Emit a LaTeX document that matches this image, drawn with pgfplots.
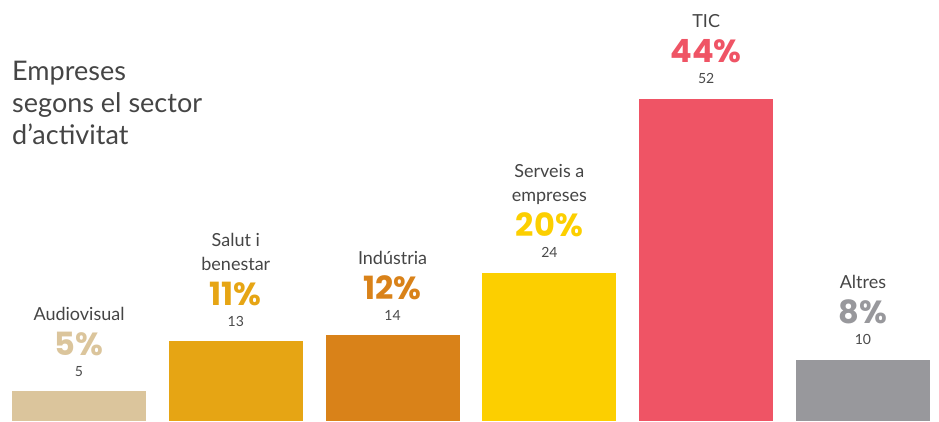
\documentclass[border=0pt]{standalone}
\usepackage{pgfplots}
\pgfplotsset{compat=1.18}
\usepackage{fontspec}
\setmainfont{Lato}
\newfontfamily\pctfamily{Poppins}
\definecolor{audio}{HTML}{DBC59C}
\definecolor{salut}{HTML}{E6A514}
\definecolor{indus}{HTML}{D98219}
\definecolor{serv}{HTML}{FCCF00}
\definecolor{tic}{HTML}{EF5465}
\definecolor{altr}{HTML}{98989C}
\definecolor{namegray}{HTML}{454545}
\definecolor{numgray}{HTML}{4A4A4A}
\newcommand{\ctr}[1]{\hbox to 0pt{\hss#1\hss}}
\newcommand{\nm}[1]{\ctr{\fontsize{18}{22}\selectfont\color{namegray}#1}}
\newcommand{\stk}[4]{\vbox{\lineskiplimit=-1000pt\lineskip=0pt\baselineskip=24pt #1\baselineskip=35pt\ctr{\fontsize{32}{32}\selectfont\pctfamily\bfseries\color{#4}#2}\baselineskip=21pt\ctr{\fontsize{14}{16}\selectfont\color{numgray}#3}}}
\begin{document}
\begin{tikzpicture}
\begin{axis}[
  ybar, bar width=134pt, bar shift=0pt,
  scale only axis, width=939pt, height=421pt,
  hide axis, clip=false,
  xmin=-0.504, xmax=5.485, ymin=0.18, ymax=67.93,
  every node near coord/.append style={anchor=base, yshift=15pt, inner sep=0pt},
]
\addplot[fill=audio, draw=none, nodes near coords={\stk{\nm{Audiovisual}}{5\%}{5}{audio}}] coordinates {(0,5)};
\addplot[fill=salut, draw=none, nodes near coords={\stk{\nm{Salut i}\nm{benestar}}{11\%}{13}{salut}}] coordinates {(1,13)};
\addplot[fill=indus, draw=none, nodes near coords={\stk{\nm{Indústria}}{12\%}{14}{indus}}] coordinates {(2,14)};
\addplot[fill=serv, draw=none, nodes near coords={\stk{\nm{Serveis a}\nm{empreses}}{20\%}{24}{serv}}] coordinates {(3,24)};
\addplot[fill=tic, draw=none, nodes near coords={\stk{\nm{TIC}}{44\%}{52}{tic}}] coordinates {(4,52)};
\addplot[fill=altr, draw=none, nodes near coords={\stk{\nm{Altres}}{8\%}{10}{altr}}] coordinates {(5,10)};
\node[anchor=base west, inner sep=0pt, text=namegray, font=\fontsize{27}{32}\selectfont] at (rel axis cs:0.0128,0.808)
  {\vtop{\baselineskip=32pt\hbox{Empreses}\hbox{segons el sector}\hbox{d’activitat}}};
\end{axis}
\pgfresetboundingbox
\path[use as bounding box] (0,0) rectangle (939pt,421pt);
\end{tikzpicture}
\end{document}
